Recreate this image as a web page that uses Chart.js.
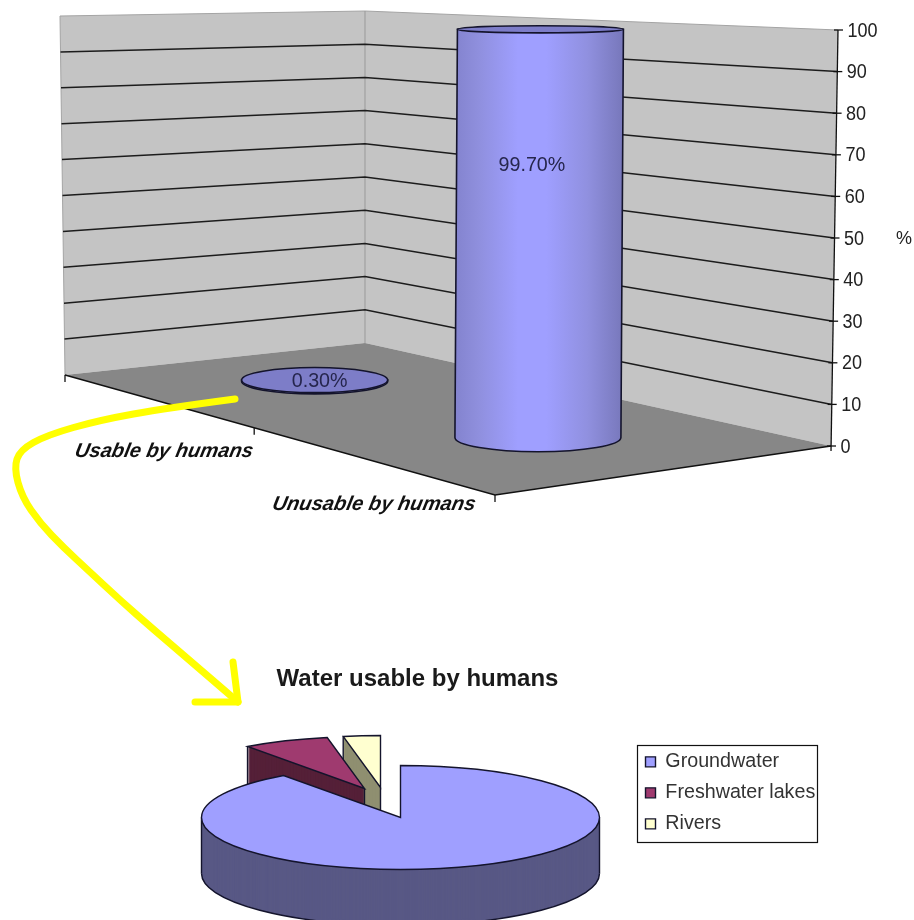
<!DOCTYPE html>
<html>
<head>
<meta charset="utf-8">
<title>Water usable by humans</title>
<script src="https://cdn.jsdelivr.net/npm/chart.js@4/dist/chart.umd.min.js"></script>
<style>
  html, body { margin: 0; padding: 0; background: #fff; overflow: hidden; }
  #stage { position: relative; width: 914px; height: 920px; overflow: hidden; }
</style>
</head>
<body>
<div id="stage">
  <div style="position:absolute;left:0;top:650px;width:835px;height:270px"><canvas id="pieChart"></canvas></div>
  <div style="position:absolute;left:0;top:0;width:914px;height:920px"><canvas id="waterChart"></canvas></div>
</div>
<script>
// All water: usable vs unusable, in percent
const categories = ['Usable by humans', 'Unusable by humans'];
const waterShare = [0.3, 99.7];
const axisTicks = [0, 10, 20, 30, 40, 50, 60, 70, 80, 90, 100];

// Usable water by source, in percent
const sources = ['Groundwater', 'Freshwater lakes', 'Rivers'];
const sourceShare = [90, 7, 3];

const FONT = '"Liberation Sans", Arial, sans-serif';

// Corners of the floor and the leaning wall edges
const floorA = [65, 375], floorB = [495, 495], floorC = [831, 446], floorD = [365, 343];
const leftTop = [60, 16], cornerTop = [365, 11], rightTop = [838, 30];

function lerp(a, b, t) {
    return [a[0] + (b[0] - a[0]) * t, a[1] + (b[1] - a[1]) * t];
}

// u runs along the front edge, v goes back towards the walls
function floorPoint(u, v) {
    return lerp(lerp(floorA, floorB, u), lerp(floorD, floorC, u), v);
}

function poly(ctx, pts) {
    ctx.beginPath();
    pts.forEach((p, i) => i ? ctx.lineTo(p[0], p[1]) : ctx.moveTo(p[0], p[1]));
}

function drawWalls(ctx, y) {
    ctx.fillStyle = '#c4c4c4';
    poly(ctx, [floorA, leftTop, cornerTop, rightTop, floorC, floorD]);
    ctx.closePath();
    ctx.fill();
    ctx.strokeStyle = '#a4a4a4';
    ctx.lineWidth = 1;
    poly(ctx, [floorA, leftTop, cornerTop, rightTop]);
    ctx.stroke();
    poly(ctx, [floorD, cornerTop]);
    ctx.strokeStyle = '#999';
    ctx.stroke();

    ctx.fillStyle = '#878787';
    poly(ctx, [floorA, floorB, floorC, floorD]);
    ctx.closePath();
    ctx.fill();

    // Grid lines bend at the wall corner
    ctx.strokeStyle = '#1c1c1c';
    ctx.lineWidth = 1.5;
    y.ticks.forEach(t => {
        if (t.value === 0 || t.value === 100) return;
        const h = (y.bottom - y.getPixelForValue(t.value)) / (y.bottom - y.top);
        poly(ctx, [lerp(floorA, leftTop, h), lerp(floorD, cornerTop, h), lerp(floorC, rightTop, h)]);
        ctx.stroke();
    });

    // Front edges of the floor
    ctx.strokeStyle = '#111';
    ctx.lineWidth = 1.3;
    poly(ctx, [floorA, floorB, floorC]);
    ctx.stroke();
    [0, 0.44, 1].forEach(u => {
        const p = lerp(floorA, floorB, u);
        poly(ctx, [p, [p[0], p[1] + 7]]);
        ctx.stroke();
    });
}

function drawCylinder(ctx, bar, chart) {
    const area = chart.chartArea;
    const u = (bar.x - area.left) / (area.right - area.left);
    const seat = floorPoint(u, 0.46);
    const cx = seat[0], cy = seat[1] - 7;
    const rx = bar.width / 2 * (0.88 + (u - 0.25) * 0.24);
    const ry = rx * 0.172;
    const height = (bar.base - bar.y) * 0.984;
    const lean = 2.5 * height / 408;
    const topRy = ry * (1 - 0.75 * height / 408);
    const topY = cy - height;

    const grad = ctx.createLinearGradient(cx - rx, 0, cx + rx, 0);
    grad.addColorStop(0, '#8383ce');
    grad.addColorStop(0.14, '#8f8fdd');
    grad.addColorStop(0.38, '#9f9fff');
    grad.addColorStop(0.55, '#9f9fff');
    grad.addColorStop(0.8, '#9090df');
    grad.addColorStop(1, '#7979bd');

    ctx.beginPath();
    ctx.moveTo(cx - rx + lean, topY);
    ctx.lineTo(cx - rx, cy);
    ctx.ellipse(cx, cy, rx, ry, 0, Math.PI, 0, true);
    ctx.lineTo(cx + rx + lean, topY);
    ctx.closePath();
    ctx.fillStyle = grad;
    ctx.fill();
    ctx.strokeStyle = '#14142c';
    ctx.lineWidth = 1.6;
    ctx.stroke();

    // Lid
    ctx.beginPath();
    ctx.ellipse(cx + lean, topY, rx, topRy, 0, 0, Math.PI * 2);
    ctx.fillStyle = '#7d7dc8';
    ctx.fill();
    ctx.stroke();

    return { cx, cy };
}

// Digits on the axis are a little narrower than the font
function narrowText(ctx, text, x, y, xScale) {
    ctx.save();
    ctx.translate(x, y);
    ctx.scale(xScale, 1);
    ctx.fillText(text, 0, 0);
    ctx.restore();
}

function drawValueAxis(ctx, y) {
    ctx.strokeStyle = '#111';
    ctx.lineWidth = 1.3;
    poly(ctx, [[floorC[0], floorC[1] + 5], rightTop]);
    ctx.stroke();
    ctx.font = '20px ' + FONT;
    ctx.fillStyle = '#222';
    ctx.textAlign = 'left';
    ctx.textBaseline = 'middle';
    y.ticks.forEach(t => {
        const py = y.getPixelForValue(t.value);
        const h = (y.bottom - py) / (y.bottom - y.top);
        const x = lerp(floorC, rightTop, h)[0];
        poly(ctx, [[x - 4, py], [x + 5, py]]);
        ctx.stroke();
        narrowText(ctx, String(t.label), x + 9.5, py + 1, 0.9);
    });
    ctx.font = '18px ' + FONT;
    ctx.textAlign = 'center';
    ctx.fillText('%', 904, y.getPixelForValue(50) + 1);
}

// Sheared axis captions under the front edge
function drawCategoryLabels(ctx) {
    const spots = [[164, 451, 182], [374, 504, 207]];
    ctx.font = 'italic bold 20px ' + FONT;
    ctx.fillStyle = '#111';
    ctx.textAlign = 'center';
    ctx.textBaseline = 'middle';
    categories.forEach((name, i) => {
        const s = spots[i];
        const sx = s[2] / (ctx.measureText(name).width + 4);
        ctx.save();
        ctx.transform(sx, 0, -0.2, 1, s[0], s[1]);
        ctx.fillText(name, 0, 0);
        ctx.restore();
    });
}

// Hand drawn pointer from the small disc down to the pie
function drawPointer(ctx) {
    const pts = [[235, 399], [167, 408], [100, 420], [47, 435], [20, 450], [14, 468], [22, 497],
        [40, 523], [63, 547], [90, 572], [120, 600], [153, 629], [187, 658], [238, 702]];
    ctx.strokeStyle = '#ffff00';
    ctx.lineWidth = 7;
    ctx.lineCap = 'round';
    ctx.lineJoin = 'round';
    ctx.beginPath();
    ctx.moveTo(pts[0][0], pts[0][1]);
    for (let i = 1; i < pts.length - 1; i++) {
        ctx.quadraticCurveTo(pts[i][0], pts[i][1], (pts[i][0] + pts[i + 1][0]) / 2, (pts[i][1] + pts[i + 1][1]) / 2);
    }
    ctx.lineTo(pts[pts.length - 1][0], pts[pts.length - 1][1]);
    ctx.stroke();
    poly(ctx, [[233, 662], [238, 702], [195, 702]]);
    ctx.stroke();
}

const scene3d = {
    id: 'scene3d',
    beforeDatasetsDraw(chart) {
        const ctx = chart.ctx;
        const y = chart.scales.y;
        ctx.save();
        drawWalls(ctx, y);
        drawValueAxis(ctx, y);

        const bars = chart.getDatasetMeta(0).data;
        const nudges = [[5, 0], [-6, -272]];
        bars.forEach((bar, i) => {
            const c = drawCylinder(ctx, bar, chart);
            ctx.font = '19.7px ' + FONT;
            ctx.fillStyle = '#26264d';
            ctx.textAlign = 'center';
            ctx.textBaseline = 'middle';
            ctx.fillText(waterShare[i].toFixed(2) + '%', c.cx + nudges[i][0], c.cy + nudges[i][1]);
        });

        drawCategoryLabels(ctx);
        drawPointer(ctx);
        ctx.restore();
        return false;
    }
};

new Chart(document.getElementById('waterChart'), {
    type: 'bar',
    data: {
        labels: categories,
        datasets: [{ data: waterShare, barThickness: 166 }]
    },
    options: {
        responsive: true,
        maintainAspectRatio: false,
        animation: false,
        events: [],
        layout: { padding: { left: 60, right: 79, top: 30, bottom: 474 } },
        plugins: { legend: { display: false }, tooltip: { enabled: false } },
        scales: {
            x: { display: false },
            y: {
                display: false,
                min: 0,
                max: 100,
                afterBuildTicks: scale => { scale.ticks = axisTicks.map(v => ({ value: v })); }
            }
        }
    },
    plugins: [scene3d]
});

// Pie tilt and thickness
const pieCentre = [400.5, 167.5];
const squash = 0.261;
const pieDepth = 56;
const sideColors = ['#585885', '#552038', '#8f8f70'];
const sliceDrift = [[0, 0], [-36, -29], [-20, -30]];

function wedge(ctx, arc, ox, oy) {
    ctx.save();
    ctx.translate(ox, oy);
    ctx.scale(1, squash);
    ctx.beginPath();
    ctx.moveTo(0, 0);
    ctx.arc(0, 0, arc.outerRadius, arc.startAngle, arc.endAngle);
    ctx.closePath();
    ctx.restore();
}

function drawSlice(ctx, arc, i) {
    const ox = pieCentre[0] + sliceDrift[i][0];
    const oy = pieCentre[1] + sliceDrift[i][1];
    const r = arc.outerRadius;

    ctx.fillStyle = sideColors[i];
    for (let d = pieDepth; d > 0; d--) {
        wedge(ctx, arc, ox, oy + d);
        ctx.fill();
    }
    ctx.strokeStyle = '#14142c';
    ctx.lineWidth = 1.4;

    // Vertical outlines of the side wall, plus the lower rim on the big slice
    const verticals = i === 0 ? [0, Math.PI] : [arc.startAngle];
    verticals.forEach(a => {
        const px = ox + Math.cos(a) * r;
        const py = oy + Math.sin(a) * r * squash;
        ctx.beginPath();
        ctx.moveTo(px, py);
        ctx.lineTo(px, py + pieDepth);
        ctx.stroke();
    });
    if (i === 0) {
        ctx.save();
        ctx.translate(ox, oy + pieDepth);
        ctx.scale(1, squash);
        ctx.beginPath();
        ctx.arc(0, 0, r, 0, Math.PI);
        ctx.restore();
        ctx.stroke();
    } else {
        ctx.beginPath();
        ctx.moveTo(ox, oy);
        ctx.lineTo(ox, oy + pieDepth);
        ctx.stroke();
    }

    wedge(ctx, arc, ox, oy);
    ctx.fillStyle = arc.options.backgroundColor;
    ctx.fill();
    ctx.strokeStyle = arc.options.borderColor;
    ctx.stroke();
}

const tiltedPie = {
    id: 'tiltedPie',
    afterLayout(chart) {
        // Legend sits in its own frame beside the pie
        const lg = chart.legend;
        lg.left = 634.2;
        lg.right = 830;
        lg.top = 90.7;
        lg.bottom = 200;
    },
    beforeDatasetsDraw(chart) {
        const ctx = chart.ctx;
        const arcs = chart.getDatasetMeta(0).data;
        ctx.save();
        // Drawn back to front so the big slice covers the other two
        [2, 1, 0].forEach(i => drawSlice(ctx, arcs[i], i));
        ctx.restore();
        return false;
    },
    beforeDraw(chart) {
        const ctx = chart.ctx;
        ctx.save();
        ctx.strokeStyle = '#111';
        ctx.lineWidth = 1.2;
        ctx.strokeRect(637.5, 95.5, 180, 97);
        ctx.restore();
    }
};

new Chart(document.getElementById('pieChart'), {
    type: 'pie',
    data: {
        labels: sources,
        datasets: [{
            data: sourceShare,
            backgroundColor: ['#9f9fff', '#9f3a6f', '#ffffd0'],
            borderColor: '#14142c',
            borderWidth: 1.4,
            radius: 199,
            clip: false
        }]
    },
    options: {
        responsive: true,
        maintainAspectRatio: false,
        animation: false,
        events: [],
        plugins: {
            tooltip: { enabled: false },
            title: {
                display: true,
                text: 'Water usable by humans',
                color: '#1a1a1a',
                font: { family: FONT, size: 24, weight: 'bold' },
                padding: { top: 15, bottom: 4 }
            },
            legend: {
                position: 'right',
                align: 'start',
                labels: {
                    boxWidth: 10,
                    boxHeight: 10,
                    padding: 11.3,
                    color: '#333',
                    font: { family: FONT, size: 19.7 }
                }
            }
        }
    },
    plugins: [tiltedPie]
});
</script>
</body>
</html>
